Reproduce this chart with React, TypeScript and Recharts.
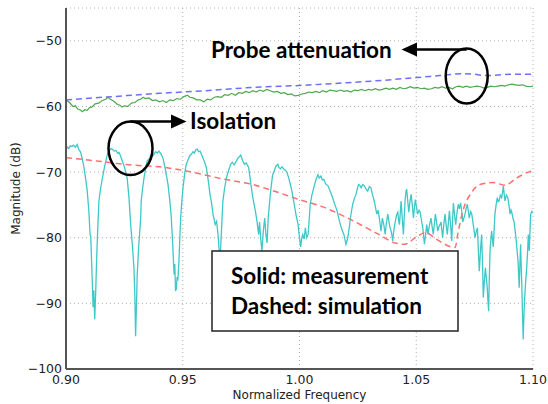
import React from "react";
import { LineChart, Line, XAxis, YAxis, CartesianGrid } from "recharts";

// axes
const xTicks = [0.9, 0.95, 1.0, 1.05, 1.1];
const yTicks = [-100, -90, -80, -70, -60, -50];

// probe attenuation, measured (solid green)
const probeMeas: [number, number][] = [
  [0.9, -59.0], [0.9015, -59.4], [0.903, -60.0], [0.904, -59.9], [0.905, -60.4], [0.906, -60.5],
  [0.907, -60.8], [0.908, -60.5], [0.909, -60.6], [0.910, -60.2], [0.911, -60.1], [0.9125, -59.6],
  [0.914, -59.5], [0.9155, -59.1], [0.917, -58.9], [0.918, -58.6], [0.919, -58.9], [0.9205, -59.2],
  [0.922, -59.7], [0.923, -59.8], [0.924, -60.1], [0.925, -59.9], [0.9265, -60.0], [0.928, -59.5],
  [0.9295, -59.4], [0.931, -59.0], [0.932, -58.9], [0.933, -58.6], [0.934, -58.8], [0.9355, -58.7],
  [0.937, -59.1], [0.9385, -59.0], [0.940, -59.3], [0.9415, -59.1], [0.943, -59.4], [0.9445, -59.0],
  [0.946, -59.1], [0.9475, -58.8], [0.949, -58.9], [0.9505, -58.5], [0.952, -58.3], [0.953, -58.6],
  [0.9545, -58.7], [0.956, -59.0], [0.9575, -59.0], [0.959, -59.3], [0.9605, -58.9], [0.962, -59.0],
  [0.9635, -58.6], [0.965, -58.5], [0.9665, -58.6], [0.968, -58.2], [0.9695, -58.3], [0.971, -58.0],
  [0.9725, -58.3], [0.974, -57.9], [0.9755, -58.0], [0.977, -57.7], [0.9785, -57.9], [0.980, -57.6],
  [0.9815, -57.8], [0.983, -57.5], [0.9845, -57.7], [0.986, -57.4], [0.9875, -57.6], [0.989, -57.8],
  [0.9905, -57.7], [0.992, -58.0], [0.9935, -57.9], [0.995, -58.2], [0.9965, -58.1], [0.998, -58.4],
  [0.9995, -58.3], [1.001, -58.1], [1.0025, -58.0], [1.004, -57.8], [1.0055, -57.9], [1.007, -57.7],
  [1.0085, -57.9], [1.010, -57.6], [1.0115, -57.8], [1.013, -57.5], [1.0145, -57.6], [1.016, -57.7],
  [1.0175, -57.5], [1.019, -57.7], [1.0205, -57.6], [1.022, -57.8], [1.0235, -57.5], [1.025, -57.6],
  [1.0265, -57.4], [1.028, -57.6], [1.0295, -57.4], [1.031, -57.5], [1.0325, -57.3], [1.034, -57.5],
  [1.0355, -57.4], [1.037, -57.2], [1.0385, -57.4], [1.040, -57.2], [1.0415, -57.4], [1.043, -57.1],
  [1.0445, -57.3], [1.046, -57.2], [1.0475, -57.0], [1.049, -57.2], [1.0505, -57.1], [1.052, -57.3],
  [1.0535, -57.2], [1.055, -57.4], [1.0565, -57.3], [1.058, -57.1], [1.0595, -57.2], [1.061, -57.0],
  [1.0625, -57.2], [1.064, -57.1], [1.0655, -57.3], [1.067, -57.0], [1.0685, -56.9], [1.070, -57.1],
  [1.0715, -56.9], [1.073, -57.1], [1.0745, -57.0], [1.076, -56.9], [1.0775, -57.0], [1.079, -57.2],
  [1.0805, -57.1], [1.082, -56.9], [1.0835, -57.0], [1.085, -56.9], [1.0865, -56.8], [1.088, -56.9],
  [1.0895, -56.7], [1.091, -56.6], [1.0925, -56.7], [1.094, -56.8], [1.0955, -56.7], [1.097, -56.9],
  [1.0985, -57.0], [1.1, -56.9],
];

// probe attenuation, simulated (dashed blue)
const probeSim: [number, number][] = [
  [0.9, -59.0], [0.92, -58.5], [0.94, -58.0], [0.96, -57.6], [0.98, -57.1], [1.0, -56.8],
  [1.02, -56.4], [1.04, -55.9], [1.05, -55.6], [1.06, -55.3], [1.07, -55.0], [1.075, -55.1],
  [1.08, -55.3], [1.085, -55.2], [1.09, -55.1], [1.1, -55.1],
];

// isolation, simulated (dashed red)
const isoSim: [number, number][] = [
  [0.9, -67.8], [0.913, -68.3], [0.927, -68.9], [0.94, -69.2], [0.951, -69.8], [0.968, -71.1],
  [0.98, -71.9], [0.99, -73.0], [1.0, -74.2], [1.01, -75.3], [1.02, -76.9], [1.034, -79.5],
  [1.041, -80.8], [1.045, -81.0], [1.05, -79.9], [1.054, -79.2], [1.0585, -80.2], [1.0666, -81.5],
  [1.068, -79.0], [1.07, -75.9], [1.0737, -73.1], [1.0773, -71.9], [1.083, -71.6], [1.088, -72.0],
  [1.093, -70.9], [1.098, -70.0], [1.1, -69.8],
];

// isolation, measured (solid cyan)
const isoMeas: [number, number][] = [
  [0.9, -66.6], [0.9006, -66.2], [0.9012, -66.4], [0.9018, -66.0], [0.9025, -66.1], [0.9032, -65.9],
  [0.904, -66.2], [0.9048, -65.8], [0.9055, -66.6], [0.9062, -66.9], [0.907, -68.0], [0.9077, -69.3],
  [0.9084, -71.0], [0.9091, -72.9], [0.9098, -76.0], [0.9103, -79.5], [0.9106, -79.8], [0.911, -84.0],
  [0.9113, -87.1], [0.9116, -90.6], [0.9119, -88.0], [0.9123, -92.4], [0.9127, -88.5], [0.9131, -83.6],
  [0.9136, -78.5], [0.9141, -74.4], [0.9148, -72.5], [0.9156, -70.9], [0.9165, -69.2], [0.9177, -67.3],
  [0.9185, -66.8], [0.9192, -66.4], [0.9198, -66.5], [0.9206, -66.8], [0.9214, -66.7], [0.9221, -67.1],
  [0.9227, -67.0], [0.9234, -67.6], [0.9241, -68.3], [0.925, -69.2], [0.9262, -70.9], [0.927, -74.0],
  [0.9277, -78.0], [0.9284, -81.0], [0.9291, -84.6], [0.9295, -89.0], [0.9298, -95.0], [0.9302, -90.0],
  [0.9305, -85.6], [0.9311, -81.5], [0.9317, -78.5], [0.932, -76.8], [0.9322, -74.4], [0.9328, -72.5],
  [0.9334, -70.9], [0.9341, -69.4], [0.9348, -68.3], [0.9356, -68.0], [0.9363, -67.5], [0.937, -67.6],
  [0.9377, -67.3], [0.9384, -66.9], [0.9391, -67.1], [0.9398, -66.8], [0.9406, -67.2], [0.9415, -67.8],
  [0.9425, -69.5], [0.9437, -71.9], [0.9445, -74.5], [0.9451, -77.0], [0.9457, -81.0], [0.9463, -85.6],
  [0.9466, -84.0], [0.9469, -88.0], [0.9472, -87.9], [0.9476, -86.0], [0.9479, -86.5], [0.9483, -84.1],
  [0.9487, -80.5], [0.9491, -77.0], [0.9496, -74.5], [0.9501, -72.4], [0.9508, -70.3], [0.9515, -68.8],
  [0.9522, -68.2], [0.953, -67.5], [0.9537, -67.3], [0.9544, -66.9], [0.955, -67.1], [0.9556, -66.6],
  [0.9562, -66.5], [0.9568, -66.9], [0.9574, -66.8], [0.958, -67.3], [0.9587, -67.9], [0.9594, -68.5],
  [0.9601, -69.3], [0.961, -71.5], [0.9617, -73.5], [0.9622, -74.4], [0.963, -76.5], [0.9639, -78.0],
  [0.9645, -77.5], [0.9651, -79.5], [0.9656, -82.0], [0.966, -83.5], [0.9665, -79.5], [0.9672, -74.4],
  [0.9679, -72.5], [0.9687, -70.9], [0.9696, -69.8], [0.9705, -68.8], [0.9712, -68.5], [0.972, -68.9],
  [0.973, -68.3], [0.9738, -67.8], [0.9744, -67.6], [0.9748, -67.4], [0.9753, -67.9], [0.9759, -68.5],
  [0.9765, -68.8], [0.9772, -68.6], [0.9778, -69.0], [0.9782, -69.3], [0.9788, -70.8], [0.9794, -72.4],
  [0.98, -73.9], [0.9806, -75.0], [0.9811, -75.9], [0.9818, -77.5], [0.9825, -79.5], [0.9829, -77.6],
  [0.9833, -79.8], [0.9839, -82.0], [0.9845, -79.0], [0.9851, -77.0], [0.9856, -79.5], [0.9861, -80.8],
  [0.9866, -77.0], [0.9875, -73.4], [0.988, -71.8], [0.9885, -70.4], [0.9892, -69.8], [0.9899, -69.1],
  [0.9907, -68.8], [0.9912, -69.3], [0.9918, -69.5], [0.9925, -69.2], [0.9932, -69.5], [0.9939, -69.7],
  [0.9946, -70.0], [0.9953, -70.8], [0.9961, -71.9], [0.9968, -73.0], [0.9975, -74.4], [0.9985, -76.5],
  [0.9994, -78.0], [1.0, -80.0], [1.0005, -81.4], [1.001, -80.0], [1.0014, -79.5], [1.002, -80.2],
  [1.0025, -78.5], [1.0031, -80.0], [1.0037, -79.5], [1.0042, -77.0], [1.0046, -74.9], [1.0053, -73.5],
  [1.0061, -72.4], [1.007, -71.2], [1.0079, -70.4], [1.0085, -70.9], [1.0092, -70.6], [1.0098, -71.2],
  [1.0104, -71.1], [1.0112, -71.8], [1.0122, -72.1], [1.013, -72.8], [1.0139, -73.6], [1.015, -74.8],
  [1.0161, -75.9], [1.0168, -77.0], [1.0175, -78.0], [1.0182, -78.8], [1.019, -79.5], [1.0199, -81.0],
  [1.0206, -80.2], [1.0213, -78.5], [1.022, -76.5], [1.0228, -74.9], [1.0235, -74.0], [1.0242, -73.4],
  [1.0248, -72.5], [1.0253, -71.9], [1.0258, -72.0], [1.0264, -72.4], [1.0271, -71.9], [1.0278, -72.1],
  [1.0285, -72.6], [1.0292, -72.9], [1.0299, -72.2], [1.0306, -72.4], [1.0313, -73.5], [1.032, -74.4],
  [1.0326, -75.5], [1.0331, -76.4], [1.0336, -75.8], [1.0342, -77.0], [1.0349, -79.0], [1.0355, -77.0],
  [1.0361, -78.0], [1.0367, -79.5], [1.0372, -77.8], [1.0378, -76.4], [1.0383, -77.5], [1.0388, -78.5],
  [1.0394, -79.2], [1.0399, -80.5], [1.0405, -78.6], [1.041, -77.6], [1.0416, -76.5], [1.0421, -76.1],
  [1.0425, -77.5], [1.0428, -78.0], [1.0432, -76.0], [1.0435, -74.4], [1.044, -77.0], [1.0445, -79.5],
  [1.0449, -76.5], [1.0453, -73.9], [1.0456, -73.0], [1.0459, -72.6], [1.0463, -74.2], [1.0468, -76.1],
  [1.0473, -74.5], [1.0478, -73.4], [1.0483, -75.0], [1.0488, -77.0], [1.0492, -75.5], [1.0496, -74.2],
  [1.0501, -75.3], [1.0506, -76.4], [1.0512, -75.8], [1.0517, -76.1], [1.0522, -77.3], [1.0528, -78.5],
  [1.0535, -81.0], [1.054, -79.5], [1.0545, -78.0], [1.055, -79.5], [1.0556, -78.2], [1.0563, -77.0],
  [1.0568, -78.3], [1.0573, -79.5], [1.0578, -77.8], [1.0582, -76.4], [1.0587, -77.6], [1.0592, -79.0],
  [1.0597, -78.3], [1.0602, -78.0], [1.0606, -77.6], [1.0613, -80.0], [1.0618, -78.0], [1.0623, -76.4],
  [1.0628, -78.0], [1.0633, -79.5], [1.0638, -77.5], [1.0642, -75.9], [1.0647, -78.0], [1.0652, -80.5],
  [1.0656, -77.0], [1.0659, -74.7], [1.0664, -76.5], [1.0669, -78.0], [1.0675, -76.0], [1.068, -74.9],
  [1.0685, -75.6], [1.069, -74.7], [1.0695, -76.0], [1.0699, -77.6], [1.0704, -77.0], [1.0709, -76.4],
  [1.0714, -75.5], [1.0719, -74.9], [1.0723, -76.0], [1.0727, -77.0], [1.0733, -76.0], [1.0738, -76.4],
  [1.0744, -78.0], [1.0748, -79.0], [1.0752, -80.0], [1.0757, -79.0], [1.0762, -78.5], [1.0766, -82.0],
  [1.077, -85.1], [1.0775, -82.0], [1.078, -79.5], [1.0784, -84.0], [1.0787, -89.1], [1.0792, -86.5],
  [1.0796, -84.6], [1.08, -86.0], [1.0804, -87.6], [1.0807, -89.5], [1.081, -91.2], [1.0813, -86.0],
  [1.0816, -82.0], [1.082, -80.0], [1.0823, -79.0], [1.0827, -80.5], [1.083, -81.4], [1.0834, -78.5],
  [1.0837, -76.4], [1.0842, -75.0], [1.0847, -73.9], [1.0851, -74.5], [1.0855, -74.4], [1.086, -73.5],
  [1.0866, -73.9], [1.087, -73.0], [1.0873, -72.1], [1.0877, -73.5], [1.088, -74.4], [1.0886, -73.5],
  [1.0892, -73.9], [1.0897, -75.0], [1.0902, -76.4], [1.0906, -75.8], [1.0909, -76.1], [1.0914, -77.0],
  [1.0919, -77.6], [1.0923, -78.8], [1.0927, -80.0], [1.0932, -82.0], [1.0936, -83.6], [1.0939, -86.0],
  [1.0941, -87.6], [1.0944, -84.0], [1.0947, -81.0], [1.095, -85.0], [1.0952, -87.1], [1.0955, -91.5],
  [1.0958, -95.5], [1.0962, -91.0], [1.0966, -88.1], [1.097, -86.0], [1.0973, -84.6], [1.0977, -82.0],
  [1.098, -79.5], [1.0984, -82.0], [1.0987, -79.0], [1.099, -76.4], [1.0995, -76.0], [1.1, -76.2],
];

const toRows = (pts: [number, number][]) => pts.map(([f, v]) => ({ f, v }));

const fmtY = (v: number) => (v < 0 ? "\u2212" + Math.abs(v) : String(v));
const tickStyle = { fontSize: 12.5, fill: "#222", fontFamily: "DejaVu Sans" };
const frame = { stroke: "#555", strokeWidth: 2 };
const anno = { fontFamily: "Lato", fontWeight: 700, fontSize: 22.5, fill: "#000" };

export default function App() {
  return (
    <div style={{ position: "absolute", left: 0, top: 0, width: 548, height: 404, background: "#fff" }}>
      <LineChart width={548} height={404} margin={{ top: 8, right: 15, bottom: 0, left: 10 }}>
        <CartesianGrid stroke="#b0b0b0" strokeDasharray="1 3" />
        <XAxis
          dataKey="f"
          type="number"
          domain={[0.9, 1.1]}
          ticks={xTicks}
          allowDataOverflow
          tickFormatter={(v: number) => v.toFixed(2)}
          tick={tickStyle}
          tickLine={false}
          tickSize={0}
          tickMargin={6}
          axisLine={frame}
          height={35}
        />
        <XAxis xAxisId="top" orientation="top" type="number" domain={[0.9, 1.1]} tick={false} tickLine={false} axisLine={frame} height={0} />
        <YAxis
          type="number"
          domain={[-100, -45]}
          ticks={yTicks}
          allowDataOverflow
          tickFormatter={fmtY}
          tick={tickStyle}
          tickLine={false}
          tickSize={0}
          tickMargin={4}
          axisLine={frame}
          width={56}
        />
        <YAxis yAxisId="right" orientation="right" type="number" domain={[-100, -45]} tick={false} tickLine={false} axisLine={frame} width={0} />
        <Line data={toRows(isoMeas)} dataKey="v" stroke="#3ec8c8" strokeWidth={1.3} dot={false} isAnimationActive={false} />
        <Line data={toRows(probeMeas)} dataKey="v" stroke="#4ea84e" strokeWidth={1.2} dot={false} isAnimationActive={false} />
        <Line data={toRows(isoSim)} dataKey="v" stroke="#ff6f6f" strokeWidth={1.5} strokeDasharray="6 4" dot={false} type="monotone" isAnimationActive={false} />
        <Line data={toRows(probeSim)} dataKey="v" stroke="#6f6fff" strokeWidth={1.5} strokeDasharray="6 4" dot={false} type="monotone" isAnimationActive={false} />
      </LineChart>

      <svg width={548} height={404} style={{ position: "absolute", left: 0, top: 0, pointerEvents: "none" }}>
        {/* axis titles */}
        <text x={299.5} y={399} textAnchor="middle" style={{ fontFamily: "DejaVu Sans", fontSize: 12, fill: "#222" }}>
          Normalized Frequency
        </text>
        <text x={20} y={188.5} textAnchor="middle" transform="rotate(-90 20 188.5)" style={{ fontFamily: "DejaVu Sans", fontSize: 12, fill: "#222" }}>
          Magnitude (dB)
        </text>

        {/* probe attenuation callout */}
        <ellipse cx={466.7} cy={76} rx={21} ry={27.5} fill="none" stroke="#000" strokeWidth={2.5} />
        <line x1={466.7} y1={49.5} x2={415} y2={49.5} stroke="#000" strokeWidth={2.5} />
        <polygon points="401.5,49.5 417,42.5 417,56.5" fill="#000" />
        <text x={211} y={58} style={anno}>Probe attenuation</text>

        {/* isolation callout */}
        <ellipse cx={130.5} cy={148.3} rx={22} ry={26.7} fill="none" stroke="#000" strokeWidth={2.5} />
        <line x1={130.5} y1={121.6} x2={173} y2={121.6} stroke="#000" strokeWidth={2.5} />
        <polygon points="186.5,121.6 171,114.6 171,128.6" fill="#000" />
        <text x={190} y={129} style={anno}>Isolation</text>

        {/* line-style note */}
        <rect x={212} y={251} width={246} height={80} fill="#fff" stroke="#222" strokeWidth={1.5} />
        <text x={231} y={284} style={anno}>Solid: measurement</text>
        <text x={231} y={314} style={anno}>Dashed: simulation</text>
      </svg>
    </div>
  );
}
